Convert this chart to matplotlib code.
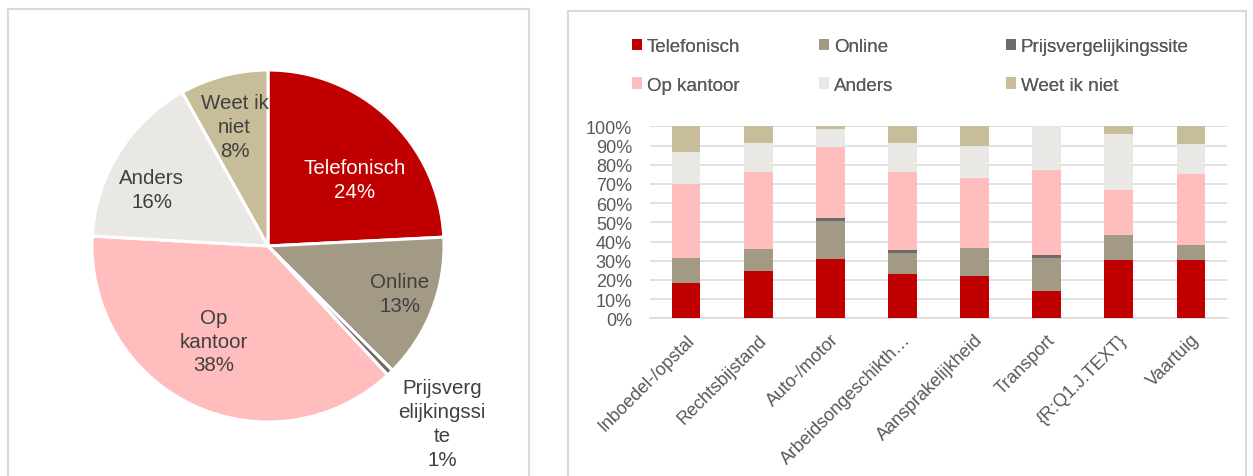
import numpy as np
import matplotlib.pyplot as plt
from matplotlib.patches import Rectangle, Patch

plt.rcParams['font.family'] = ['Liberation Sans', 'DejaVu Sans']

W, H = 1253, 477
fig = plt.figure(figsize=(W / 100, H / 100), dpi=100)

# data
pie_labels = ["Telefonisch", "Online", "Prijsverg\nelijkingssi\nte", "Op\nkantoor", "Anders", "Weet ik\nniet"]
pie_values = [24.2, 13.3, 0.6, 37.8, 16.0, 8.1]

categories = ['Inboedel-/opstal', 'Rechtsbijstand', 'Auto-/motor', 'Arbeidsongeschikth…',
              'Aansprakelijkheid', 'Transport', '{R:Q1.J.TEXT}', 'Vaartuig']
telefonisch = [18.2, 24.5, 30.9, 22.9, 22.2, 14.4, 30.4, 30.6]
online = [13.2, 11.4, 20.0, 11.1, 14.4, 17.0, 13.2, 7.6]
prijs = [0.0, 0.3, 1.2, 1.4, 0.0, 1.6, 0.0, 0.0]
kantoor = [38.6, 40.0, 37.3, 40.8, 36.5, 44.4, 23.4, 37.1]
anders = [16.5, 15.3, 9.2, 15.1, 16.5, 22.6, 28.8, 15.3]
weet = [13.5, 8.5, 1.4, 8.7, 10.4, 0.0, 4.2, 9.4]

series_names = ['Telefonisch', 'Online', 'Prijsvergelijkingssite', 'Op kantoor', 'Anders', 'Weet ik niet']
colors = ['#C00000', '#A39A86', '#6B6B6B', '#FFBDBD', '#EAE8E4', '#C7BE99']
txt = '#595959'
grid = '#D9D9D9'

# panel frames (open at the bottom, cut by the image edge)
for x0, x1, y0 in [(8, 529, 10), (568, 1246, 12)]:
    fig.add_artist(Rectangle((x0 / W, -0.1), (x1 - x0) / W, 1.1 - y0 / H,
                             transform=fig.transFigure, fill=False,
                             edgecolor=grid, linewidth=1.5))

# pie
cx, cy, r = 268, 247, 176
axp = fig.add_axes([(cx - r) / W, (H - cy - r) / H, 2 * r / W, 2 * r / H])
wedges, _ = axp.pie(pie_values, colors=colors, startangle=90, counterclock=False,
                    wedgeprops=dict(edgecolor='white', linewidth=2.2))
axp.set_xlim(-1, 1)
axp.set_ylim(-1, 1)
axp.axis('off')
label_pos = [(0.49, 0.38), (0.75, -0.27), (0.99, -1.01), (-0.31, -0.54), (-0.66, 0.32), (-0.19, 0.68)]
for lab, val, (lx, ly), i in zip(pie_labels, pie_values, label_pos, range(6)):
    c = 'white' if i == 0 else '#404040'
    axp.text(lx, ly, f"{lab}\n{round(val):d}%", ha='center', va='center',
             fontsize=14.8, color=c, linespacing=1.33)

# stacked bars
ax = fig.add_axes([650 / W, (H - 319.3) / H, (1227 - 650) / W, (319.3 - 127.3) / H])
x = np.arange(len(categories))
bottom = np.zeros(len(categories))
series = [telefonisch, online, prijs, kantoor, anders, weet]
for vals, col, name in zip(series, colors, series_names):
    v = np.array(vals) / 100
    ax.bar(x, v, 0.4, bottom=bottom, color=col, label=name, zorder=3)
    bottom += v
ax.set_xlim(-0.5, 7.5)
ax.set_ylim(0, 1)
ax.set_yticks(np.arange(0, 1.01, 0.1))
ax.set_yticklabels([f"{int(round(t * 100))}%" for t in np.arange(0, 1.01, 0.1)])
ax.yaxis.grid(True, color=grid, linewidth=1.1, zorder=0)
for s in ['top', 'right', 'left']:
    ax.spines[s].set_visible(False)
ax.spines['bottom'].set_color(grid)
ax.spines['bottom'].set_linewidth(1.1)
ax.tick_params(axis='both', length=0, labelsize=13, labelcolor=txt)
ax.tick_params(axis='y', pad=13)
ax.set_xticks(x)
ax.set_xticklabels(categories, rotation=45, ha='right', va='top', rotation_mode='anchor')
ax.tick_params(axis='x', pad=9)

# legend: three columns, two rows
handles = [Patch(facecolor=c) for c in colors]
col_x = [632, 819, 1006]
for k in range(3):
    idx = [k, k + 3]
    leg = fig.legend([handles[i] for i in idx], [series_names[i] for i in idx],
                     loc='upper left', bbox_to_anchor=(col_x[k] / W, 1 - 39 / H),
                     frameon=False, fontsize=13.5, labelcolor=txt,
                     handlelength=0.55, handleheight=0.55, handletextpad=0.25,
                     labelspacing=1.15, borderpad=0, borderaxespad=0)
    fig.add_artist(leg)

fig.savefig('out.png', dpi=100)
